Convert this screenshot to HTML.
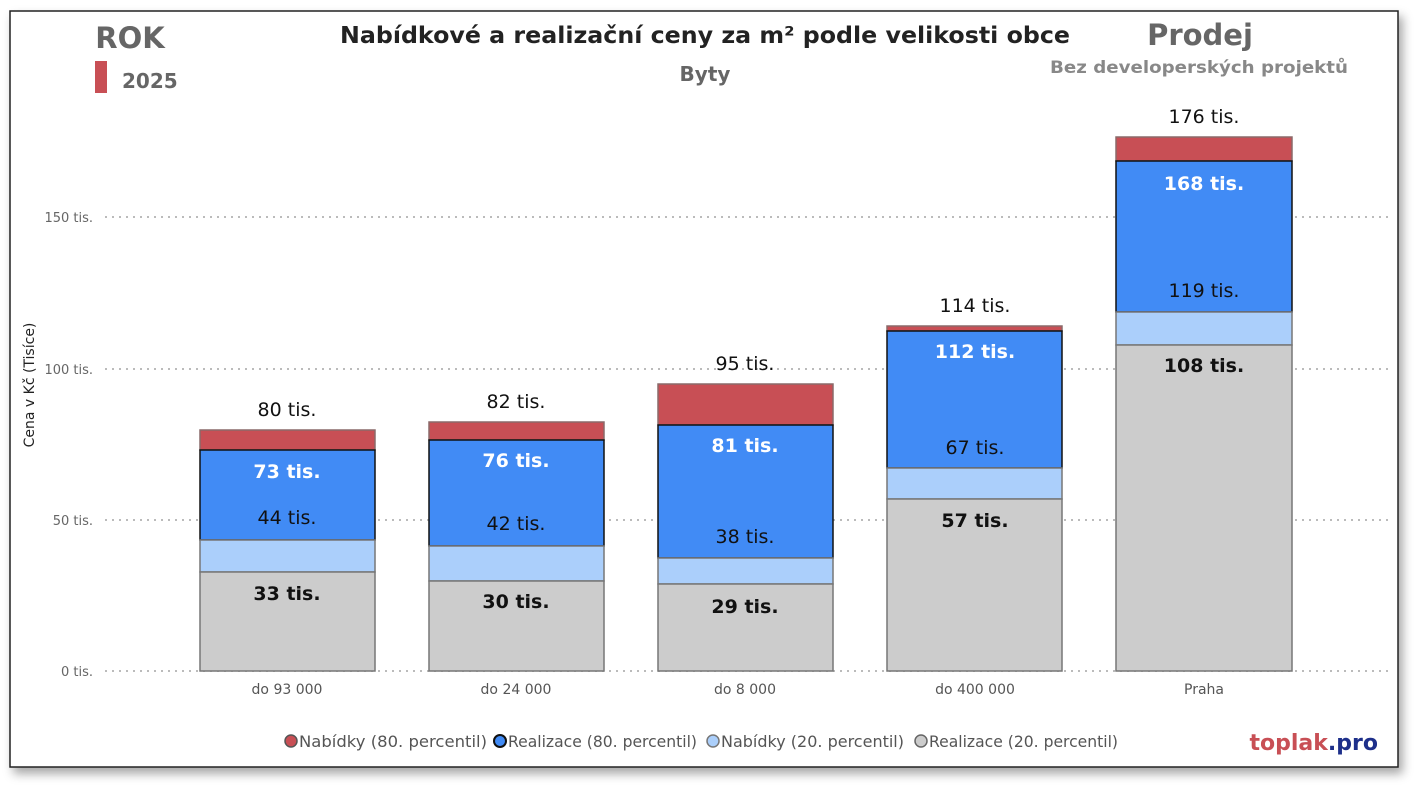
<!DOCTYPE html>
<html><head><meta charset="utf-8"><style>
html,body{margin:0;padding:0;background:#fff;}
svg{display:block;font-family:"DejaVu Sans","Liberation Sans",sans-serif;}
</style></head><body>
<svg width="1420" height="787" viewBox="0 0 1420 787" xmlns="http://www.w3.org/2000/svg">
<defs><filter id="sh" x="-5%" y="-5%" width="110%" height="115%"><feDropShadow dx="4" dy="6" stdDeviation="5" flood-color="#000" flood-opacity="0.35"/></filter></defs>
<rect x="10" y="11" width="1388" height="756" fill="#fff" stroke="#222" stroke-width="1.5" filter="url(#sh)"/>
<text x="130" y="48" font-size="29" font-weight="bold" fill="#666" text-anchor="middle">ROK</text>
<rect x="95" y="61" width="12" height="32" fill="#c84f55"/>
<text x="122" y="88" font-size="20" font-weight="bold" fill="#666">2025</text>
<text x="705" y="43" font-size="23" font-weight="bold" fill="#222" text-anchor="middle" textLength="730" lengthAdjust="spacingAndGlyphs">Nabídkové a realizační ceny za m² podle velikosti obce</text>
<text x="705" y="81" font-size="20" font-weight="bold" fill="#666" text-anchor="middle">Byty</text>
<text x="1200" y="45" font-size="29" font-weight="bold" fill="#666" text-anchor="middle">Prodej</text>
<text x="1199" y="73" font-size="17" font-weight="bold" fill="#888" text-anchor="middle" textLength="298" lengthAdjust="spacingAndGlyphs">Bez developerských projektů</text>
<g stroke="#bbb" stroke-width="2" stroke-dasharray="2,5">
<line x1="105" y1="671" x2="1390" y2="671"/><line x1="105" y1="520" x2="1390" y2="520"/><line x1="105" y1="369" x2="1390" y2="369"/><line x1="105" y1="217" x2="1390" y2="217"/>
</g>
<g font-size="13" fill="#666" text-anchor="end">
<text x="93" y="676">0 tis.</text><text x="93" y="525">50 tis.</text><text x="93" y="374">100 tis.</text><text x="93" y="222">150 tis.</text>
</g>
<text transform="translate(34,385) rotate(-90)" font-size="14" fill="#222" text-anchor="middle">Cena v Kč (Tisíce)</text>
<g stroke-width="1.5">
<rect x="200" y="430" width="175" height="20" fill="#c84f55" stroke="#8a6a6a"/>
<rect x="200" y="450" width="175" height="90" fill="#418bf5" stroke="#111"/>
<rect x="200" y="540" width="175" height="32" fill="#abcffb" stroke="#777"/>
<rect x="200" y="572" width="175" height="99" fill="#cccccc" stroke="#777"/>
<rect x="429" y="422" width="175" height="18" fill="#c84f55" stroke="#8a6a6a"/>
<rect x="429" y="440" width="175" height="106" fill="#418bf5" stroke="#111"/>
<rect x="429" y="546" width="175" height="35" fill="#abcffb" stroke="#777"/>
<rect x="429" y="581" width="175" height="90" fill="#cccccc" stroke="#777"/>
<rect x="658" y="384" width="175" height="41" fill="#c84f55" stroke="#8a6a6a"/>
<rect x="658" y="425" width="175" height="133" fill="#418bf5" stroke="#111"/>
<rect x="658" y="558" width="175" height="26" fill="#abcffb" stroke="#777"/>
<rect x="658" y="584" width="175" height="87" fill="#cccccc" stroke="#777"/>
<rect x="887" y="326" width="175" height="5" fill="#c84f55" stroke="#8a6a6a"/>
<rect x="887" y="331" width="175" height="137" fill="#418bf5" stroke="#111"/>
<rect x="887" y="468" width="175" height="31" fill="#abcffb" stroke="#777"/>
<rect x="887" y="499" width="175" height="172" fill="#cccccc" stroke="#777"/>
<rect x="1116" y="137" width="176" height="24" fill="#c84f55" stroke="#8a6a6a"/>
<rect x="1116" y="161" width="176" height="151" fill="#418bf5" stroke="#111"/>
<rect x="1116" y="312" width="176" height="33" fill="#abcffb" stroke="#777"/>
<rect x="1116" y="345" width="176" height="326" fill="#cccccc" stroke="#777"/>
</g>
<g font-size="19" text-anchor="middle" fill="#111">
<text x="287" y="416">80 tis.</text><text x="516" y="408">82 tis.</text><text x="745" y="370">95 tis.</text><text x="975" y="312">114 tis.</text><text x="1204" y="123">176 tis.</text>
<text x="287" y="524">44 tis.</text><text x="516" y="530">42 tis.</text><text x="745" y="543">38 tis.</text><text x="975" y="454">67 tis.</text><text x="1204" y="297">119 tis.</text>
</g>
<g font-size="19" font-weight="bold" text-anchor="middle" fill="#fff">
<text x="287" y="478">73 tis.</text><text x="516" y="467">76 tis.</text><text x="745" y="452">81 tis.</text><text x="975" y="358">112 tis.</text><text x="1204" y="190">168 tis.</text>
</g>
<g font-size="19" font-weight="bold" text-anchor="middle" fill="#111">
<text x="287" y="600">33 tis.</text><text x="516" y="608">30 tis.</text><text x="745" y="613">29 tis.</text><text x="975" y="527">57 tis.</text><text x="1204" y="372">108 tis.</text>
</g>
<g font-size="14" fill="#555" text-anchor="middle">
<text x="287" y="694">do 93 000</text><text x="516" y="694">do 24 000</text><text x="745" y="694">do 8 000</text><text x="975" y="694">do 400 000</text><text x="1204" y="694">Praha</text>
</g>
<g font-size="16" fill="#555">
<circle cx="291" cy="741" r="6" fill="#c84f55" stroke="#555" stroke-width="1.5"/><text x="299" y="747" textLength="188" lengthAdjust="spacingAndGlyphs">Nabídky (80. percentil)</text>
<circle cx="500" cy="741" r="6" fill="#418bf5" stroke="#111" stroke-width="2"/><text x="508" y="747" textLength="189" lengthAdjust="spacingAndGlyphs">Realizace (80. percentil)</text>
<circle cx="713" cy="741" r="6" fill="#abcffb" stroke="#777" stroke-width="1.5"/><text x="721" y="747" textLength="183" lengthAdjust="spacingAndGlyphs">Nabídky (20. percentil)</text>
<circle cx="921" cy="741" r="6" fill="#cccccc" stroke="#666" stroke-width="1.5"/><text x="929" y="747" textLength="189" lengthAdjust="spacingAndGlyphs">Realizace (20. percentil)</text>
</g>
<text x="1378" y="750" font-size="22" font-weight="bold" text-anchor="end"><tspan fill="#c84f55">toplak</tspan><tspan fill="#1d2f8a">.pro</tspan></text>
</svg>
</body></html>
